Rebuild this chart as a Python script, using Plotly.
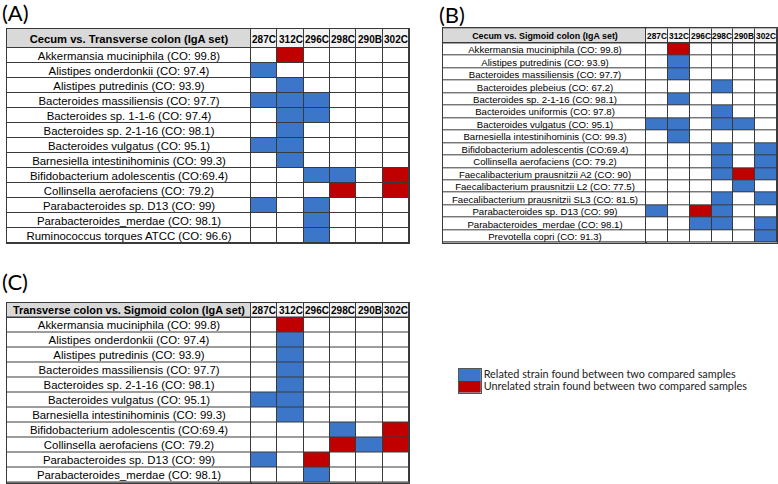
import plotly.graph_objects as go

# ---------------- data ----------------
samples = ["287C", "312C", "296C", "298C", "290B", "302C"]
# cell codes: 0 = nothing, 1 = related strain, 2 = unrelated strain

a_title = "Cecum vs. Transverse colon (IgA set)"
a_labels = [
    "Akkermansia muciniphila (CO: 99.8)",
    "Alistipes onderdonkii (CO: 97.4)",
    "Alistipes putredinis (CO: 93.9)",
    "Bacteroides massiliensis (CO: 97.7)",
    "Bacteroides sp. 1-1-6 (CO: 97.4)",
    "Bacteroides sp. 2-1-16 (CO: 98.1)",
    "Bacteroides vulgatus (CO: 95.1)",
    "Barnesiella intestinihominis (CO: 99.3)",
    "Bifidobacterium adolescentis (CO:69.4)",
    "Collinsella aerofaciens (CO: 79.2)",
    "Parabacteroides sp. D13 (CO: 99)",
    "Parabacteroides_merdae (CO: 98.1)",
    "Ruminococcus torques ATCC (CO: 96.6)",
]
a_cells = [
    [0, 2, 0, 0, 0, 0],
    [1, 0, 0, 0, 0, 0],
    [0, 1, 0, 0, 0, 0],
    [1, 1, 1, 0, 0, 0],
    [0, 1, 1, 0, 0, 0],
    [0, 1, 0, 0, 0, 0],
    [1, 1, 0, 0, 0, 0],
    [0, 1, 0, 0, 0, 0],
    [0, 0, 1, 1, 0, 2],
    [0, 0, 0, 2, 0, 2],
    [1, 0, 1, 0, 0, 0],
    [0, 0, 1, 0, 0, 0],
    [0, 0, 1, 0, 0, 0],
]

b_title = "Cecum vs. Sigmoid colon (IgA set)"
b_labels = [
    "Akkermansia muciniphila (CO: 99.8)",
    "Alistipes putredinis (CO: 93.9)",
    "Bacteroides massiliensis (CO: 97.7)",
    "Bacteroides plebeius (CO: 67.2)",
    "Bacteroides sp. 2-1-16 (CO: 98.1)",
    "Bacteroides uniformis (CO: 97.8)",
    "Bacteroides vulgatus (CO: 95.1)",
    "Barnesiella intestinihominis (CO: 99.3)",
    "Bifidobacterium adolescentis (CO:69.4)",
    "Collinsella aerofaciens (CO: 79.2)",
    "Faecalibacterium prausnitzii A2 (CO: 90)",
    "Faecalibacterium prausnitzii L2 (CO: 77.5)",
    "Faecalibacterium prausnitzii SL3 (CO: 81.5)",
    "Parabacteroides sp. D13 (CO: 99)",
    "Parabacteroides_merdae (CO: 98.1)",
    "Prevotella copri (CO: 91.3)",
]
b_cells = [
    [0, 2, 0, 0, 0, 0],
    [0, 1, 0, 0, 0, 0],
    [0, 1, 0, 0, 0, 0],
    [0, 0, 0, 1, 0, 0],
    [0, 1, 0, 0, 0, 0],
    [0, 0, 0, 1, 0, 0],
    [1, 1, 0, 1, 1, 0],
    [0, 1, 0, 0, 0, 0],
    [0, 0, 0, 1, 0, 1],
    [0, 0, 0, 1, 0, 1],
    [0, 0, 0, 1, 2, 1],
    [0, 0, 0, 0, 1, 0],
    [0, 0, 0, 1, 0, 1],
    [1, 0, 2, 1, 0, 0],
    [0, 0, 1, 1, 0, 1],
    [0, 0, 0, 0, 0, 1],
]

c_title = "Transverse colon vs. Sigmoid colon (IgA set)"
c_labels = [
    "Akkermansia muciniphila (CO: 99.8)",
    "Alistipes onderdonkii (CO: 97.4)",
    "Alistipes putredinis (CO: 93.9)",
    "Bacteroides massiliensis (CO: 97.7)",
    "Bacteroides sp. 2-1-16 (CO: 98.1)",
    "Bacteroides vulgatus (CO: 95.1)",
    "Barnesiella intestinihominis (CO: 99.3)",
    "Bifidobacterium adolescentis (CO:69.4)",
    "Collinsella aerofaciens (CO: 79.2)",
    "Parabacteroides sp. D13 (CO: 99)",
    "Parabacteroides_merdae (CO: 98.1)",
]
c_cells = [
    [0, 2, 0, 0, 0, 0],
    [0, 1, 0, 0, 0, 0],
    [0, 1, 0, 0, 0, 0],
    [0, 1, 0, 0, 0, 0],
    [0, 1, 0, 0, 0, 0],
    [1, 1, 0, 0, 0, 0],
    [0, 1, 0, 0, 0, 0],
    [0, 0, 0, 1, 0, 2],
    [0, 0, 0, 2, 1, 2],
    [1, 0, 2, 0, 0, 0],
    [0, 0, 1, 0, 0, 0],
]

legend_texts = [
    "Related strain found between two compared samples",
    "Unrelated strain found between two compared samples",
]
legend_codes = [1, 2]

# ---------------- style / layout ----------------
W, H = 778, 484
WHITE, BLUE, RED, HEAD, HEAD2 = "#FFFFFF", "#3C76C8", "#C00000", "#D9D9D9", "#F2F2F2"
GRID = "#3a3a3a"
colorscale = []
for i, c in enumerate([WHITE, BLUE, RED, HEAD, HEAD2]):
    colorscale += [[i / 5, c], [(i + 1) / 5, c]]
TABLE_FONT = "Liberation Sans, Arial, sans-serif"
LABEL_FONT = "Lato, Calibri, sans-serif"

panels = [
    dict(tag="(A)", title=a_title, labels=a_labels, cells=a_cells,
         left=7, mid=251, right=409, top=29, hbot=48, bot=243,
         lab_size=11.4, head_size=11.2, col_size=10, tag_xy=(0, 13)),
    dict(tag="(B)", title=b_title, labels=b_labels, cells=b_cells,
         left=443, mid=646, right=777, top=28.3, hbot=43.3, bot=242.5,
         lab_size=9.6, head_size=8.9, col_size=8.3, tag_xy=(437, 14)),
    dict(tag="(C)", title=c_title, labels=c_labels, cells=c_cells,
         left=7, mid=251, right=409, top=302.5, hbot=317.5, bot=482.7,
         lab_size=11.4, head_size=10.9, col_size=10, tag_xy=(0, 281)),
]


def xd(a, b):
    return [a / W, b / W]


def yd(top, bottom):
    return [1 - bottom / H, 1 - top / H]


fig = go.Figure()
layout = dict(width=W, height=H, margin=dict(l=0, r=0, t=0, b=0),
              paper_bgcolor="white", plot_bgcolor=GRID, showlegend=False)
axis_style = dict(showticklabels=False, showgrid=False, zeroline=False, ticks="",
                  showline=True, linecolor=GRID, linewidth=1, mirror=True,
                  fixedrange=True)
annotations = []
n_ax = 0


def new_axes(xdom, ydom, yreversed=True):
    global n_ax
    n_ax += 1
    sx = "" if n_ax == 1 else str(n_ax)
    layout["xaxis" + sx] = dict(domain=xdom, anchor="y" + sx, **axis_style)
    ya = dict(domain=ydom, anchor="x" + sx, **axis_style)
    if yreversed:
        ya["autorange"] = "reversed"
    layout["yaxis" + sx] = ya
    return sx


def hm(sx, x, y, z, text=None, size=10, bold=False, gap=1):
    kw = {}
    if text is not None:
        kw = dict(text=text, texttemplate="%{text}",
                  textfont=dict(family=TABLE_FONT, size=size, color="#000000",
                                weight="bold" if bold else "normal"))
    fig.add_trace(go.Heatmap(x=x, y=y, z=z, xaxis="x" + sx, yaxis="y" + sx,
                             zmin=-0.5, zmax=4.5,
                             colorscale=colorscale, showscale=False, xgap=gap, ygap=gap,
                             hoverinfo="skip", **kw))


for p in panels:
    # header: title cell
    sx = new_axes(xd(p["left"], p["mid"]), yd(p["top"], p["hbot"]))
    hm(sx, ["label"], ["head"], [[3]], text=[[p["title"]]],
       size=p["head_size"], bold=True)
    # header: sample names
    sx = new_axes(xd(p["mid"], p["right"]), yd(p["top"], p["hbot"]))
    hm(sx, samples, ["head"], [[4] * len(samples)], text=[samples],
       size=p["col_size"], bold=True)
    # body: strain labels
    sx = new_axes(xd(p["left"], p["mid"]), yd(p["hbot"], p["bot"]))
    hm(sx, ["label"], p["labels"], [[0] for _ in p["labels"]],
       text=[[lab] for lab in p["labels"]], size=p["lab_size"])
    # body: sample cells
    sx = new_axes(xd(p["mid"], p["right"]), yd(p["hbot"], p["bot"]))
    hm(sx, samples, p["labels"], p["cells"])
    annotations.append(dict(text=p["tag"], xref="paper", yref="paper",
                            x=p["tag_xy"][0] / W, y=1 - p["tag_xy"][1] / H,
                            xanchor="left", yanchor="middle", showarrow=False,
                            font=dict(family=LABEL_FONT, size=22, color="#000000")))

# legend as a tiny heatmap with labels on the right
sx = new_axes(xd(459, 480.5), yd(368.5, 392.5), yreversed=True)
layout["yaxis" + sx].update(showticklabels=True, side="right", tickmode="array",
                            tickvals=legend_texts, ticktext=legend_texts,
                            tickfont=dict(family=LABEL_FONT, size=10.85, color="#222222"),
                            linecolor="#555555")
layout["xaxis" + sx].update(linecolor="#555555")
hm(sx, ["key"], legend_texts, [[c] for c in legend_codes], gap=0)

layout["annotations"] = annotations
fig.update_layout(**layout)
fig.write_html("out.html", config={"displayModeBar": False},
               post_script="document.body.style.margin='0';document.body.style.overflow='hidden';")
